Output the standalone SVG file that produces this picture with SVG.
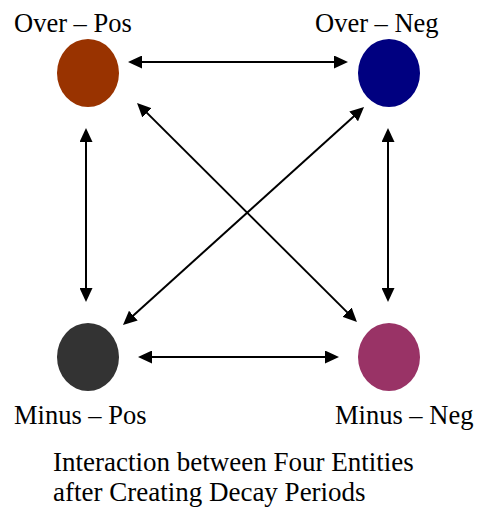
<svg xmlns="http://www.w3.org/2000/svg" width="480" height="509" viewBox="0 0 480 509">
  <style>
    .lbl { font-family: "Liberation Serif", "Times New Roman", serif; font-size: 26.5px; fill: #000; }
    .cap { font-family: "Liberation Serif", "Times New Roman", serif; font-size: 27px; fill: #000; }
    .link { stroke: #000; stroke-width: 2; fill: none; marker-start: url(#head); marker-end: url(#head); }
  </style>
  <defs>
    <marker id="head" markerUnits="userSpaceOnUse" markerWidth="14" markerHeight="13" refX="6" refY="6.5" orient="auto-start-reverse">
      <path d="M0,0 L14,6.5 L0,13 z" fill="#000"/>
    </marker>
  </defs>
  <rect width="480" height="509" fill="#fff"/>

  <!-- connectors: every pair of entities linked both ways -->
  <g id="connectors">
    <line class="link" x1="136" y1="62" x2="340" y2="62"/>
    <line class="link" x1="146" y1="357" x2="331" y2="357"/>
    <line class="link" x1="86" y1="136" x2="86" y2="294"/>
    <line class="link" x1="388" y1="136" x2="388" y2="294"/>
    <line class="link" x1="142.7" y1="108.6" x2="351.3" y2="316.4"/>
    <line class="link" x1="358.1" y1="112.4" x2="128.9" y2="319.6"/>
  </g>

  <g id="over-pos">
    <ellipse cx="88" cy="73" rx="31" ry="34" fill="#993300"/>
    <text class="lbl" x="14" y="32">Over – Pos</text>
  </g>
  <g id="over-neg">
    <ellipse cx="389" cy="73" rx="31" ry="34" fill="#000080"/>
    <text class="lbl" x="315" y="32">Over – Neg</text>
  </g>
  <g id="minus-pos">
    <ellipse cx="88" cy="357" rx="31" ry="34" fill="#333333"/>
    <text class="lbl" x="14" y="424">Minus – Pos</text>
  </g>
  <g id="minus-neg">
    <ellipse cx="389" cy="357" rx="31" ry="34" fill="#993366"/>
    <text class="lbl" x="335" y="424">Minus – Neg</text>
  </g>

  <g id="caption">
    <text class="cap" x="53" y="471">Interaction between Four Entities</text>
    <text class="cap" x="53" y="501">after Creating Decay Periods</text>
  </g>
</svg>
